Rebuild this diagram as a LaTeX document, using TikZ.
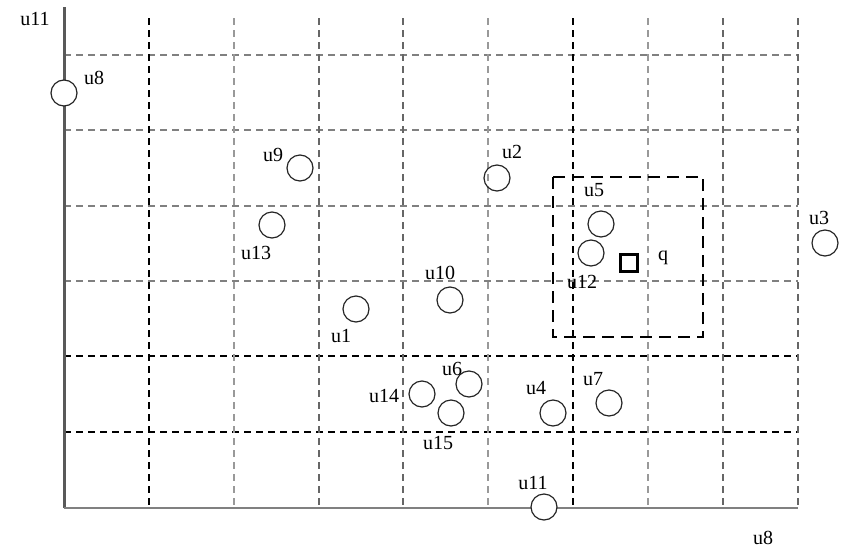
\documentclass[tikz,border=0pt]{standalone}
\usepackage{fontspec}
\setmainfont{Liberation Serif}
\begin{document}
\begin{tikzpicture}[x=1pt,y=-1pt,
  gblack/.style={draw=black,line width=1.4pt,dash pattern=on 7pt off 5pt},
  gmid/.style={draw=black!60,line width=1.3pt,dash pattern=on 7pt off 5pt},
  glight/.style={draw=black!40,line width=1.9pt,dash pattern=on 7pt off 5pt},
  ghor/.style={draw=black!50,line width=1.5pt,dash pattern=on 7pt off 5pt},
  pt/.style={circle,draw=black!85,line width=1.2pt,minimum size=26pt,inner sep=0pt},
  lab/.style={inner sep=0pt,font=\fontsize{20}{23}\selectfont},
  qbox/.style={draw=black,line width=2.2pt,dash pattern=on 12pt off 7pt},
  qpt/.style={rectangle,draw=black,line width=2.8pt,minimum size=17pt,inner sep=0pt}]
\useasboundingbox (0,0) rectangle (845,549);
% horizontal grid
\foreach \y in {55,130,206,281} \draw[ghor] (64,\y) -- (798,\y);
\foreach \y in {356,432} \draw[gblack] (64,\y) -- (798,\y);
% vertical grid
\foreach \x in {149,573} \draw[gblack] (\x,18) -- (\x,508);
\foreach \x in {319,403,723,798} \draw[gmid] (\x,18) -- (\x,508);
\foreach \x in {234,488,648} \draw[glight] (\x,18) -- (\x,508);
% axes
\coordinate (o) at (64,508);
\coordinate (ytop) at (64,7);
\coordinate (xend) at (798,508);
\draw[black!65,line width=3pt] (o) -- (ytop);
\draw[black!50,line width=2pt] (o) -- (xend);
\node[lab] (ax11) at (35,19) {u11};
\node[lab] (ax8) at (763,538) {u8};
% query range
\draw[qbox] (553,177) rectangle (703,337);
\node[qpt] (q) at (629,263) {};
\node[lab] (ql) at (663,258) {q};
% points
\node[pt,fill=white] (u8) at (64,93) {};
\node[lab] at (94,78) {u8};
\node[pt] (u9) at (300,168) {};
\node[lab] at (273,155) {u9};
\node[pt] (u2) at (497,178) {};
\node[lab] at (512,152) {u2};
\node[pt] (u13) at (272,225) {};
\node[lab] at (256,253) {u13};
\node[pt] (u5) at (601,224) {};
\node[lab] at (594,190) {u5};
\node[pt] (u12) at (591,253) {};
\node[lab] at (582,282) {u12};
\node[pt] (u3) at (825,243) {};
\node[lab] at (819,218) {u3};
\node[pt] (u10) at (450,300) {};
\node[lab] at (440,273) {u10};
\node[pt] (u1) at (356,309) {};
\node[lab] at (341,336) {u1};
\node[pt] (u6) at (469,384) {};
\node[lab] at (452,369) {u6};
\node[pt] (u14) at (422,394) {};
\node[lab] at (384,396) {u14};
\node[pt] (u15) at (451,413) {};
\node[lab] at (438,443) {u15};
\node[pt] (u4) at (553,413) {};
\node[lab] at (536,388) {u4};
\node[pt] (u7) at (609,403) {};
\node[lab] at (593,379) {u7};
\node[pt,fill=white] (u11) at (544,507) {};
\node[lab] at (533,483) {u11};
\end{tikzpicture}
\end{document}
